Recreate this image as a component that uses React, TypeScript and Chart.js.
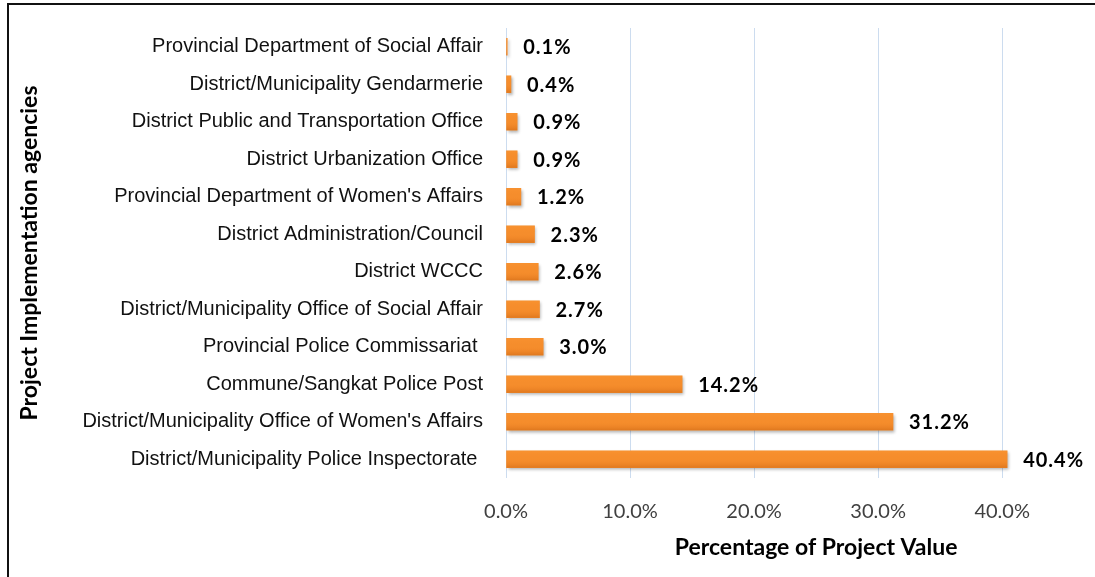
import React, { useEffect, useRef } from "react";
import { Chart, registerables } from "chart.js";

Chart.register(...registerables);

const categories = [
  "Provincial Department of Social Affair",
  "District/Municipality Gendarmerie",
  "District Public and Transportation Office",
  "District Urbanization Office",
  "Provincial Department of Women's Affairs",
  "District Administration/Council",
  "District WCCC",
  "District/Municipality Office of Social Affair",
  "Provincial Police Commissariat ",
  "Commune/Sangkat Police Post",
  "District/Municipality Office of Women's Affairs",
  "District/Municipality Police Inspectorate ",
];

const values = [0.1, 0.4, 0.9, 0.9, 1.2, 2.3, 2.6, 2.7, 3.0, 14.2, 31.2, 40.4];

const axisMax = 50;
const axisStep = 10;
const xTitle = "Percentage of Project Value";
const yTitle = "Project Implementation agencies";

const CANVAS_W = 1167;
const CANVAS_H = 578;

export default function App() {
  const ref = useRef<HTMLCanvasElement>(null);

  useEffect(() => {
    const canvas = ref.current;
    if (!canvas) return;

    const barStyle = {
      id: "barStyle",
      beforeDatasetsDraw(chart: any) {
        const ctx = chart.ctx;
        ctx.save();
        ctx.shadowColor = "rgba(0,0,0,0.3)";
        ctx.shadowBlur = 3;
        ctx.shadowOffsetX = 1.5;
        ctx.shadowOffsetY = 2;
      },
      afterDatasetsDraw(chart: any) {
        const ctx = chart.ctx;
        ctx.restore();
        const meta = chart.getDatasetMeta(0);
        meta.data.forEach((bar: any, i: number) => {
          const top = bar.y - bar.height / 2;
          const bottom = bar.y + bar.height / 2;
          const left = Math.min(bar.base, bar.x);
          const w = Math.abs(bar.x - bar.base);
          const g = ctx.createLinearGradient(0, top, 0, bottom);
          g.addColorStop(0, "rgba(255,160,60,0.25)");
          g.addColorStop(0.45, "rgba(255,140,40,0)");
          g.addColorStop(1, "rgba(170,70,0,0.3)");
          ctx.save();
          ctx.fillStyle = g;
          ctx.fillRect(left, top, w, bottom - top);
          ctx.restore();

          ctx.save();
          ctx.font = "bold 20px Lato";
          (ctx as any).letterSpacing = "1px";
          ctx.fillStyle = "#000000";
          ctx.textAlign = "left";
          ctx.textBaseline = "middle";
          ctx.fillText(values[i].toFixed(1) + "%", bar.x + 16, bar.y + 1);
          ctx.restore();
        });
      },
    };

    const chart = new Chart(canvas, {
      type: "bar",
      data: {
        labels: categories,
        datasets: [
          {
            data: values,
            backgroundColor: "#F58D2C",
            borderWidth: 0,
            barThickness: 17,
          },
        ],
      },
      options: {
        indexAxis: "y",
        responsive: false,
        animation: false,
        devicePixelRatio: 1,
        layout: { padding: { top: 23, bottom: 10, left: 0, right: 40 } },
        plugins: {
          legend: { display: false },
          tooltip: { enabled: false },
        },
        scales: {
          x: {
            min: 0,
            max: axisMax,
            afterFit: (scale: any) => {
              scale.height = 95;
            },
            ticks: {
              stepSize: axisStep,
              padding: 22,
              color: "#404040",
              font: { family: "Lato", size: 20 },
              callback: (v: any) => Number(v).toFixed(1) + "%",
            },
            grid: {
              color: "#CCDCEF",
              lineWidth: 1,
              drawTicks: false,
            },
            border: { display: false },
            title: {
              display: true,
              text: xTitle,
              color: "#000000",
              font: { family: "Lato", size: 23, weight: "bold" },
              padding: { top: 0, bottom: 12 },
            },
          },
          y: {
            afterFit: (scale: any) => {
              scale.width = 497;
              scale.paddingTop = 0;
              scale.paddingBottom = 0;
            },
            ticks: {
              padding: 23,
              color: "#111111",
              font: { family: "'Liberation Sans', Arial", size: 20 },
            },
            grid: { display: false, drawTicks: false },
            border: { display: false },
            title: {
              display: true,
              text: yTitle,
              color: "#000000",
              font: { family: "Lato", size: 23, weight: "bold" },
              padding: { top: 7, bottom: 0 },
            },
          },
        },
      },
      plugins: [barStyle],
    });

    return () => chart.destroy();
  }, []);

  return (
    <div
      style={{
        position: "fixed",
        left: 0,
        top: 0,
        width: 1095,
        height: 577,
        overflow: "hidden",
        background: "#ffffff",
      }}
    >
      <div
        style={{
          position: "absolute",
          left: 7,
          top: 3,
          width: CANVAS_W,
          height: CANVAS_H,
          border: "2px solid #111111",
        }}
      >
        <canvas
          ref={ref}
          width={CANVAS_W}
          height={CANVAS_H}
          style={{ display: "block", width: CANVAS_W, height: CANVAS_H }}
        />
      </div>
    </div>
  );
}
